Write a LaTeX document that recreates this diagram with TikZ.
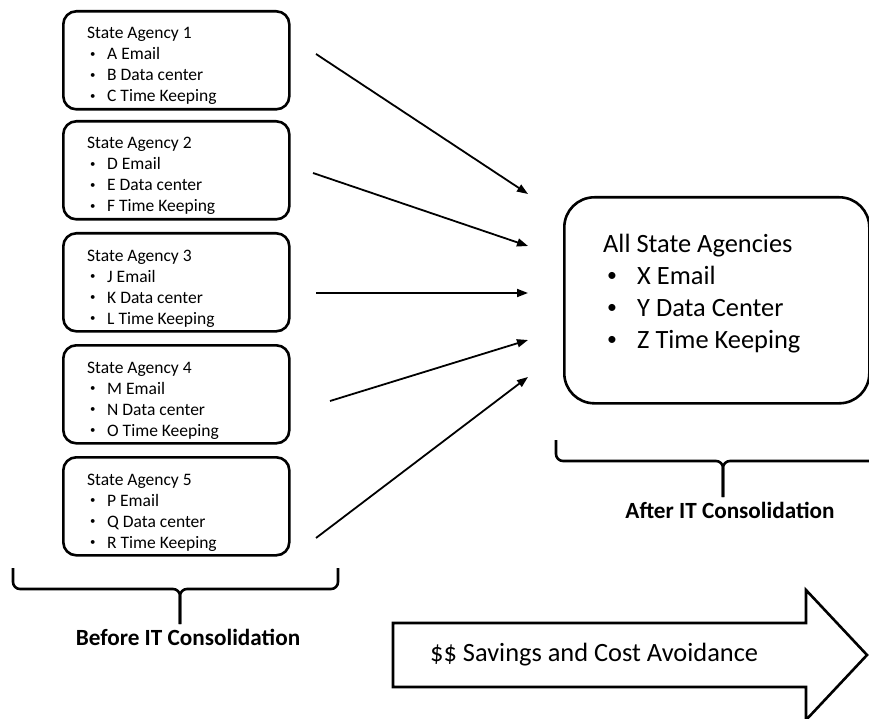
\documentclass[tikz,border=0pt]{standalone}
\usepackage{fontspec}
\setmainfont{Carlito}
\usetikzlibrary{arrows.meta}
\newcommand\smallbul{\raisebox{0.12em}{\scalebox{0.62}{•}}}
\newcommand\agbul{\makebox[20pt][l]{\hspace{3pt}\smallbul}}
\newcommand\allbul{\makebox[34pt][l]{\hspace{4pt}\raisebox{0.08em}{\scalebox{0.75}{•}}}}
\newcommand\agencytext[4]{\begin{tabular}[t]{@{}l@{}}#1\\\agbul #2\\\agbul #3\\\agbul #4\end{tabular}}
\begin{document}
\begin{tikzpicture}[x=1pt,y=-1pt,
  agbox/.style={draw, line width=2.6pt, rounded corners=13pt, minimum width=226pt, minimum height=98pt, inner sep=0pt, anchor=north west},
  agtext/.style={inner sep=0pt, anchor=base west, font=\fontsize{17.5}{21}\selectfont},
  flow/.style={line width=1.8pt, -{Triangle[length=11pt,width=8pt]}},
  bracefig/.style={line width=2.6pt, rounded corners=7pt},
  lbl/.style={inner sep=0pt, font=\fontsize{23.2}{28}\selectfont\bfseries}
]
\useasboundingbox (0,0) rectangle (869,719);
\clip (0,0) rectangle (869,719);

% agency boxes
\node[agbox] (a1) at (62,10) {};
\node[agbox] (a2) at (62,120) {};
\node[agbox] (a3) at (62,232) {};
\node[agbox] (a4) at (62,344) {};
\node[agbox] (a5) at (62,456) {};

\node[agtext] (t1) at (87,39) {\agencytext{State Agency 1}{A Email}{B Data center}{C Time Keeping}};
\node[agtext] (t2) at (87,149) {\agencytext{State Agency 2}{D Email}{E Data center}{F Time Keeping}};
\node[agtext] (t3) at (87,261) {\agencytext{State Agency 3}{J Email}{K Data center}{L Time Keeping}};
\node[agtext] (t4) at (87,373) {\agencytext{State Agency 4}{M Email}{N Data center}{O Time Keeping}};
\node[agtext] (t5) at (87,485) {\agencytext{State Agency 5}{P Email}{Q Data center}{R Time Keeping}};

% consolidated box
\node[draw, line width=2.6pt, rounded corners=30pt, minimum width=305pt, minimum height=206pt, inner sep=0pt, anchor=north west] (all) at (563,196) {};
\node[inner sep=0pt, anchor=base west, font=\fontsize{26.4}{32}\selectfont] (allt) at (603,252)
  {\begin{tabular}[t]{@{}l@{}}All State Agencies\\\allbul X Email\\\allbul Y Data Center\\\allbul Z Time Keeping\end{tabular}};

% arrows
\coordinate (s1) at (316,54);  \coordinate (e1) at (528,194);
\coordinate (s2) at (313,173); \coordinate (e2) at (528,246);
\coordinate (s3) at (316,293); \coordinate (e3) at (528,293);
\coordinate (s4) at (330,401); \coordinate (e4) at (528,340);
\coordinate (s5) at (316,538); \coordinate (e5) at (528,377);
\draw[flow] (s1) -- (e1);
\draw[flow] (s2) -- (e2);
\draw[flow] (s3) -- (e3);
\draw[flow] (s4) -- (e4);
\draw[flow] (s5) -- (e5);

% brackets
\draw[bracefig] (13,568) |- (180,589) -- (180,624);
\draw[bracefig] (338,568) |- (180,589) -- (180,624);
\draw[bracefig] (556,440) |- (723,461) -- (723,497);
\draw[bracefig] (885,461) -- (723,461) -- (723,497);

\node[lbl] (before) at (188,637) {Before IT Consolidation};
\node[lbl] (after) at (730,510) {After IT Consolidation};

% big arrow
\draw[line width=2.6pt, line join=miter] (393,623) -- (806,623) -- (806,590) -- (867,655) -- (806,720) -- (806,687) -- (393,687) -- cycle;
\node[inner sep=0pt, anchor=west, font=\fontsize{26.4}{32}\selectfont] (sav) at (430,655) {\$\$ Savings and Cost Avoidance};
\end{tikzpicture}
\end{document}
